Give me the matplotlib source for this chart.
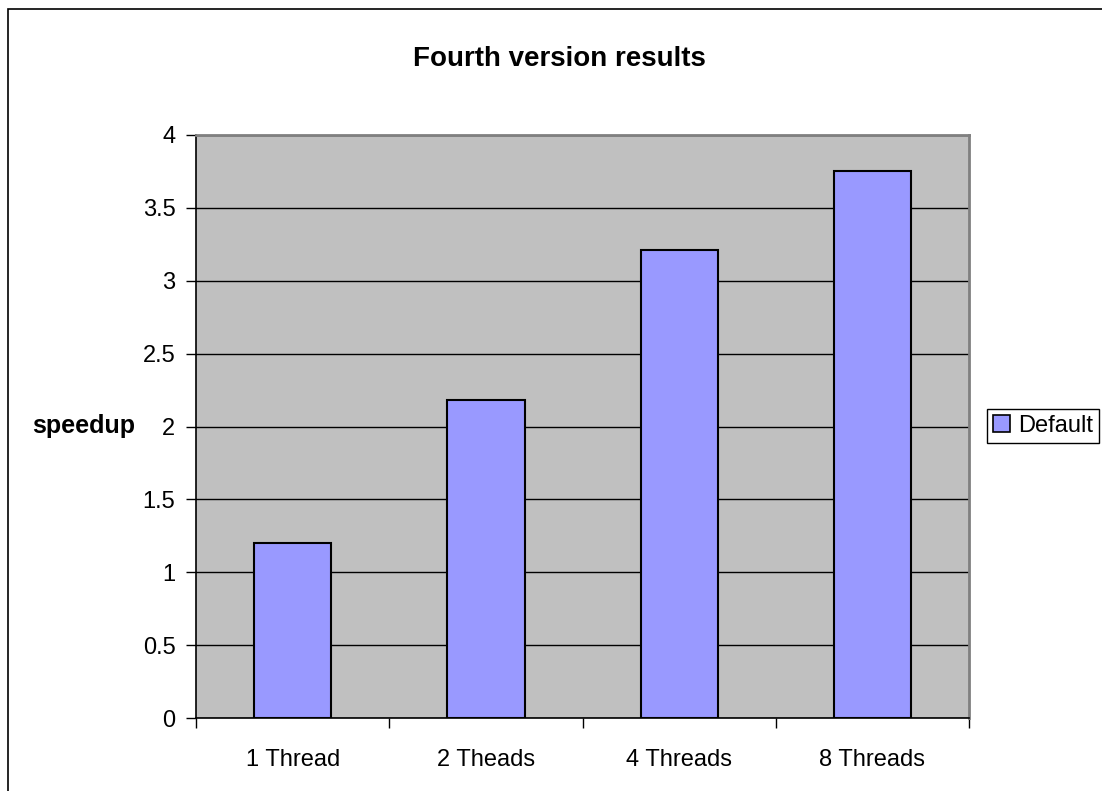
import matplotlib
matplotlib.use("Agg")
import matplotlib.pyplot as plt
from matplotlib.patches import Patch, Rectangle
import numpy as np

plt.rcParams['font.family'] = ['Liberation Sans', 'DejaVu Sans']

# speedup per thread count
categories = ['1 Thread', '2 Theads', '4 Threads', '8 Threads']
speedup = [1.2, 2.18, 3.21, 3.75]
yticks = [0, 0.5, 1, 1.5, 2, 2.5, 3, 3.5, 4]
series_name = 'Default'

bar_color = '#9999FF'

fig = plt.figure(figsize=(11.02, 7.91), dpi=100)
ax = fig.add_axes([0.1781, 0.0919, 0.7012, 0.7378])
ax.set_facecolor('#C0C0C0')

x = np.arange(len(categories))
ax.bar(x, speedup, width=0.4, color=bar_color, edgecolor='black',
       linewidth=1.5, zorder=3)

ax.set_xlim(-0.5, len(categories) - 0.5)
ax.set_ylim(0, 4)
ax.set_yticks(yticks)
ax.set_yticklabels([f'{v:g}' for v in yticks], fontsize=17)
ax.yaxis.grid(True, color='black', linewidth=1.0, zorder=1)
ax.set_axisbelow(True)

# category ticks sit between the bars
ax.set_xticks(np.arange(len(categories) + 1) - 0.5)
ax.set_xticklabels([])
ax.set_xticks(x, minor=True)
ax.set_xticklabels(categories, minor=True, fontsize=17)
ax.tick_params(axis='x', which='minor', length=0, pad=22)
ax.tick_params(axis='x', which='major', length=7, width=1, direction='out')
ax.tick_params(axis='y', length=7, width=1, direction='out', pad=8)

for side in ['top', 'right']:
    ax.spines[side].set_color('#808080')
    ax.spines[side].set_linewidth(2)
ax.spines['left'].set_color('black')
ax.spines['bottom'].set_color('black')
ax.spines['left'].set_linewidth(1.2)
ax.spines['bottom'].set_linewidth(1.2)

fig.text(0.0755, 0.4614, 'speedup', fontsize=18, fontweight='bold',
         ha='center', va='center')
fig.text(0.5075, 0.926, 'Fourth version results', fontsize=20,
         fontweight='bold', ha='center', va='center')

handle = Patch(facecolor=bar_color, edgecolor='black', linewidth=1.2)
leg = fig.legend([handle], [series_name], loc='center',
                 bbox_to_anchor=(0.9465, 0.4614), fontsize=17,
                 fancybox=False, edgecolor='black', framealpha=1,
                 handlelength=0.75, handleheight=0.75, handletextpad=0.35,
                 borderpad=0.25, borderaxespad=0)
leg.get_frame().set_linewidth(1.0)

# chart area frame
fig.patches.append(Rectangle((8 / 1102, -0.02), 1.1, 0.9886 + 0.02,
                             transform=fig.transFigure, fill=False,
                             edgecolor='black', linewidth=1.2))

fig.savefig('out.png', dpi=100)
